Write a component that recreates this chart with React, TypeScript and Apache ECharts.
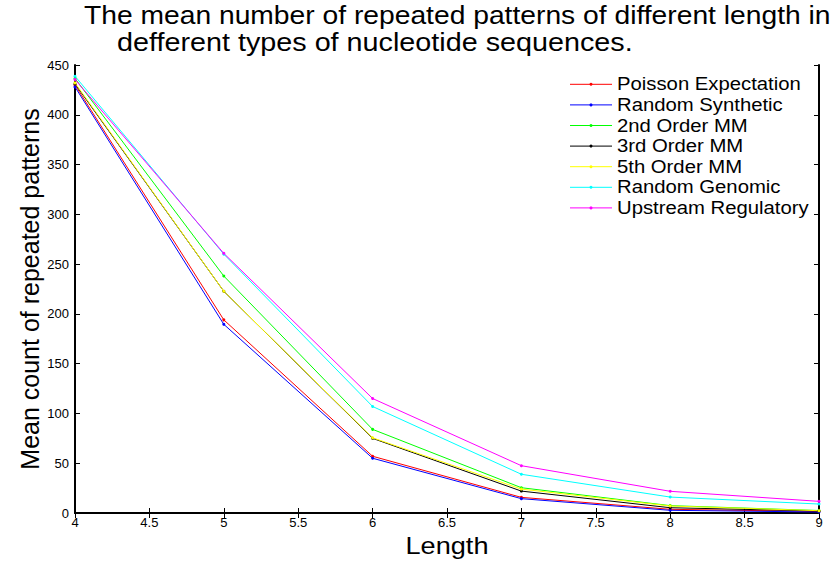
import React, { useEffect, useRef } from "react";
import * as echarts from "echarts";

const lengths = [4, 5, 6, 7, 8, 9];
const seriesNames = [
  "Poisson Expectation",
  "Random Synthetic",
  "2nd Order MM",
  "3rd Order MM",
  "5th Order MM",
  "Random Genomic",
  "Upstream Regulatory",
];
const seriesColors = ["#ff0000", "#0000ff", "#00ff00", "#000000", "#ffff00", "#00ffff", "#ff00ff"];
const poisson = [430, 194, 57, 15.7, 3.7, 1.5];
const randomSynthetic = [428, 189.5, 55, 14.4, 2.7, 1];
const order2 = [436.5, 238, 84, 25.4, 7.4, 2.5];
const order3 = [431, 222.7, 75, 22, 5.3, 2];
const order5 = [432, 222.7, 75.5, 24, 7, 2.3];
const randomGenomic = [438.7, 260, 107, 38.9, 16, 9];
const upstream = [435.5, 260.8, 115, 47.5, 21.8, 11.7];
const allValues = [poisson, randomSynthetic, order2, order3, order5, randomGenomic, upstream];

const titleLine1 = "The mean number of repeated patterns of different length in";
const titleLine2 = "defferent types of nucleotide sequences.";
const xLabel = "Length";
const yLabel = "Mean count of repeated patterns";

const FONT = "Liberation Sans, Arial, Helvetica, sans-serif";
const STRETCH = 1.13;

export default function App() {
  const ref = useRef<HTMLDivElement>(null);
  useEffect(() => {
    if (!ref.current) return;
    const chart = echarts.init(ref.current, null, { renderer: "svg" });
    const axisLine = { show: true, lineStyle: { color: "#000", width: 2 } };
    const tick = { show: true, inside: true, length: 5, lineStyle: { color: "#000", width: 1 } };

    const legendItems: any[] = [];
    const legendX = 570;
    const legendY0 = 84.3;
    const legendStep = 20.6;
    seriesNames.forEach((name, i) => {
      const y = legendY0 + i * legendStep;
      legendItems.push(
        { type: "line", shape: { x1: legendX, y1: y, x2: legendX + 42, y2: y }, style: { stroke: seriesColors[i], lineWidth: 1 } },
        { type: "circle", shape: { cx: legendX + 21, cy: y, r: 1.5 }, style: { fill: seriesColors[i] } },
        {
          type: "text",
          x: 617,
          y,
          scaleX: 1.16,
          style: { text: name, font: `17.5px ${FONT}`, fill: "#000", verticalAlign: "middle", align: "left" },
        }
      );
    });

    chart.setOption({
      animation: false,
      backgroundColor: "#fff",
      textStyle: { fontFamily: FONT },
      grid: { left: 75, right: 14, top: 65, bottom: 52, containLabel: false },
      graphic: [
        {
          type: "text",
          x: 84,
          y: 16,
          scaleX: STRETCH,
          style: { text: titleLine1, font: `25px ${FONT}`, fill: "#000", verticalAlign: "middle" },
        },
        {
          type: "text",
          x: 117,
          y: 43,
          scaleX: 1.15,
          style: { text: titleLine2, font: `25px ${FONT}`, fill: "#000", verticalAlign: "middle" },
        },
        {
          type: "text",
          x: 447,
          y: 546,
          scaleX: STRETCH,
          style: { text: xLabel, font: `24px ${FONT}`, fill: "#000", align: "center", verticalAlign: "middle" },
        },
        {
          type: "text",
          x: 30,
          y: 289,
          rotation: Math.PI / 2,
          style: { text: yLabel, font: `25px ${FONT}`, fill: "#000", align: "center", verticalAlign: "middle" },
        },
        ...legendItems,
      ],
      xAxis: [
        {
          type: "value",
          min: 4,
          max: 9,
          interval: 0.5,
          axisLine,
          axisTick: tick,
          splitLine: { show: false },
          axisLabel: { fontSize: 13, color: "#000", margin: 3, fontFamily: FONT },
        },
        {
          type: "value",
          position: "top",
          min: 4,
          max: 9,
          interval: 0.5,
          axisLine,
          axisTick: tick,
          splitLine: { show: false },
          axisLabel: { show: false },
        },
      ],
      yAxis: [
        {
          type: "value",
          min: 0,
          max: 450,
          interval: 50,
          axisLine,
          axisTick: tick,
          splitLine: { show: false },
          axisLabel: { fontSize: 13, color: "#000", margin: 6, fontFamily: FONT },
        },
        {
          type: "value",
          position: "right",
          min: 0,
          max: 450,
          interval: 50,
          axisLine,
          axisTick: tick,
          splitLine: { show: false },
          axisLabel: { show: false },
        },
      ],
      series: seriesNames.map((name, i) => ({
        name,
        type: "line",
        data: lengths.map((x, j) => [x, allValues[i][j]]),
        color: seriesColors[i],
        lineStyle: { width: 1, color: seriesColors[i] },
        itemStyle: { color: seriesColors[i] },
        symbol: "circle",
        symbolSize: 3,
        showSymbol: true,
      })),
    });
    return () => chart.dispose();
  }, []);
  return <div ref={ref} style={{ width: 833, height: 565, position: "absolute", left: 0, top: 0 }} />;
}
